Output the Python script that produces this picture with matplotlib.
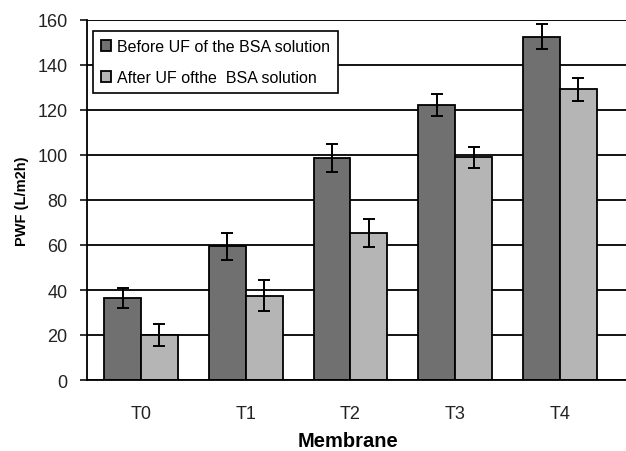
import numpy as np
import matplotlib
matplotlib.use("Agg")
import matplotlib.pyplot as plt

plt.rcParams['font.family'] = ['Liberation Sans', 'DejaVu Sans']

# data
membranes = ["T0", "T1", "T2", "T3", "T4"]
before_uf = [36.5, 59.5, 98.8, 122.2, 152.5]
before_err = [4.5, 6.0, 6.2, 5.0, 5.6]
after_uf = [20.0, 37.5, 65.2, 98.9, 129.2]
after_err = [4.9, 7.0, 6.2, 4.7, 5.2]
labels = ["Before UF of the BSA solution", "After UF ofthe  BSA solution"]

fig = plt.figure(figsize=(6.26, 4.52), dpi=100)
ax = fig.add_axes([87/626, 1 - 381/452, 1 - 87/626, (381 - 21)/452])

x = np.arange(len(membranes))
w = 0.352
ax.set_axisbelow(True)
ax.yaxis.grid(True, color="black", linewidth=1.3)

ebar = dict(ecolor="black", elinewidth=1.4, capsize=4, capthick=1.4)
ax.bar(x - w/2, before_uf, w, yerr=before_err, color="#707070",
       edgecolor="black", linewidth=1.3, label=labels[0], error_kw=ebar)
ax.bar(x + w/2, after_uf, w, yerr=after_err, color="#b5b5b5",
       edgecolor="black", linewidth=1.3, label=labels[1], error_kw=ebar)

ax.set_ylim(0, 160)
ax.set_yticks(np.arange(0, 161, 20))
ax.set_xlim(-0.515, 4.63)
ax.set_xticks(x)
ax.set_xticklabels(membranes)
ax.tick_params(axis="x", length=0, pad=18, labelsize=13, colors="#222222")
ax.tick_params(axis="y", length=5, width=1.3, pad=9, labelsize=13, colors="#222222")

for s in ["top", "right"]:
    ax.spines[s].set_visible(False)
ax.spines["left"].set_linewidth(1.3)
ax.spines["bottom"].set_linewidth(1.3)
ax.axhline(160, color="#aaaaaa", linewidth=1.5, zorder=0)

# x label sits right at the bottom edge in the original
fig.text(348/626, 1 - 442/452, "Membrane", fontsize=14.5, fontweight="bold",
         ha="center", va="center")
ax.set_ylabel("PWF (L/m2h)", fontsize=10.5, fontweight="bold", labelpad=6)

leg = ax.legend(loc="upper left", bbox_to_anchor=(93/626, 1 - 32/452),
                bbox_transform=fig.transFigure, fontsize=11.5,
                borderaxespad=0,
                handlelength=0.65, handleheight=0.65, handletextpad=0.35,
                borderpad=0.5, labelspacing=1.0, fancybox=False,
                framealpha=1, edgecolor="black")
leg.get_frame().set_linewidth(1.2)

fig.savefig("out.png", dpi=100)
